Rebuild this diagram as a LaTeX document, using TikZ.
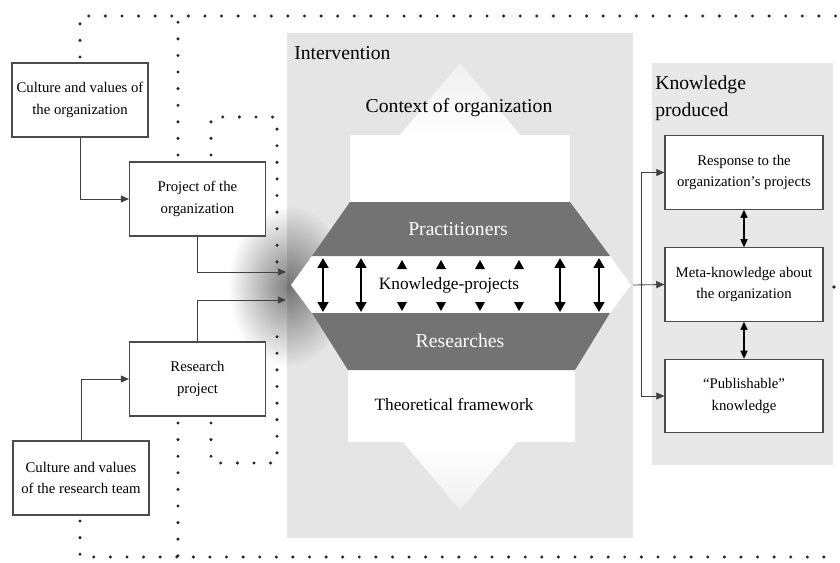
\documentclass[tikz,border=0pt]{standalone}
\usepackage{fontspec}
\setmainfont{Liberation Serif}
\usetikzlibrary{arrows.meta,positioning,fadings}
\tikzfading[name=glow, inner color=transparent!0, outer color=transparent!100]
\tikzset{
        textnode/.style={align=center,inner sep=0pt},
        % Boxes on both sides
        node_box/.style={textnode, rectangle, draw=black!70, fill=white, line width=0.8pt, font=\fontsize{10.5}{15.5}\selectfont},
        node_box_left/.style={node_box, minimum width=3.4cm, minimum height=1.85cm},
        node_box_right/.style={node_box, minimum width=3.95cm, minimum height=1.83cm},
        % Big labels
        node_title/.style={textnode, font=\fontsize{14}{19}\selectfont},
        % Labels in the middle
        node_label/.style={textnode, font=\fontsize{12.3}{15}\selectfont},
        % Dotted frame lines
        dot_line/.style={line width=2.4pt, line cap=round, dash pattern=on 0pt off 11.8pt, black!85},
        % Connectors
        link/.style={->, line width=0.6pt, black!75},
        thick_link/.style={<->, line width=2.1pt, >={Triangle[length=7pt,width=7.5pt]}}
}

\begin{document}
\begin{tikzpicture}[x=0.025cm, y=-0.025cm, >={Triangle[length=5.8pt,width=5pt]}]
    \useasboundingbox (0,0) rectangle (840,562);

    % Grey panels
    \fill[black!10] (287,33) rectangle (633,538);
    \fill[black!9] (652,63) rectangle (833,465);
    \fill[black, opacity=0.5, path fading=glow] (288,286) ellipse (60 and 80);

    % White shapes in the intervention
    \fill[white] (350,202) -- (350,135) -- (570,135) -- (570,202) -- cycle;
    \shade[top color=black!6, bottom color=white] (400,135) -- (460,63) -- (520,135) -- cycle;
    \fill[white] (291,285) -- (312,256) -- (610,256) -- (631,285) -- (610,313) -- (312,313) -- cycle;
    \fill[white] (348,370) -- (575,370) -- (575,442) -- (348,442) -- cycle;
    \shade[top color=white, bottom color=black!6] (403,442) -- (517,442) -- (460,510) -- cycle;
    \fill[black!55] (350,202) -- (570,202) -- (610,256) -- (312,256) -- cycle;
    \fill[black!55] (312,313) -- (610,313) -- (575,370) -- (348,370) -- cycle;

    % Arrows between practitioners and researches
    \foreach \x in {323,361,560,599}
        \draw[thick_link] (\x,258) -- (\x,312);
    \foreach \x in {402,441,480,519} {
        \fill ({\x-5},269) -- (\x,260) -- ({\x+5},269) -- cycle;
        \fill ({\x-5},302) -- (\x,311) -- ({\x+5},302) -- cycle;
    }

    % Labels
    \node[node_title, anchor=west] (intervention) at (294,53) {Intervention};
    \node[node_title] (context) at (459,108) {Context of organization};
    \node[node_title, text=white] (practitioners) at (458,229) {Practitioners};
    \node[node_label] (knowledge_projects) at (449,285) {Knowledge-projects};
    \node[node_title, text=white] (researches) at (460,341) {Researches};
    \node[node_label] (theory) at (454,404) {Theoretical framework};
    \node[node_title, align=left, anchor=north west] (produced) at (655,76) {Knowledge\\produced};

    % Dotted frame
    \draw[dot_line] (80,57) -- (80,16) -- (840,16);
    \draw[dot_line] (178,155) -- (178,16);
    \draw[dot_line] (211,155) -- (211,117) -- (277,117) -- (277,268);
    \draw[dot_line] (80,521) -- (80,557) -- (840,557);
    \draw[dot_line] (178,423) -- (178,557);
    \draw[dot_line] (211,423) -- (211,463) -- (277,463) -- (277,326);
    \fill[black!85] (834,287) circle (1.3pt);

    % Boxes
    \node[node_box_left] (culture_org) at (80,100) {Culture and values of\\the organization};
    \node[node_box_left] (project_org) at (197.5,199) {Project of the\\organization};
    \node[node_box_left] (research_proj) at (197.5,379) {Research\\project};
    \node[node_box_left] (culture_team) at (81,478) {Culture and values\\of the research team};
    \node[node_box_right] (response) at (744,172.5) {Response to the\\organization's projects};
    \node[node_box_right] (meta) at (744,284.5) {Meta-knowledge about\\the organization};
    \node[node_box_right] (publishable) at (744,396) {``Publishable''\\knowledge};

    \coordinate (in_top) at (286,272);
    \coordinate (in_bot) at (286,300);
    \coordinate (kp_east) at (633,285);
    \coordinate (split) at (641,285);

    % Connectors
    \draw[link] (culture_org.south) |- (project_org.west);
    \draw[link] (project_org.south) |- (in_top);
    \draw[link] (research_proj.north) |- (in_bot);
    \draw[link] (culture_team.north) |- (research_proj.west);
    \draw[link] (kp_east) -- (meta.west);
    \draw[link] (split) |- (response.west);
    \draw[link] (split) |- (publishable.west);
    \draw[<->, line width=1pt] (response.south) -- (meta.north);
    \draw[<->, line width=1pt] (meta.south) -- (publishable.north);
\end{tikzpicture}
\end{document}
